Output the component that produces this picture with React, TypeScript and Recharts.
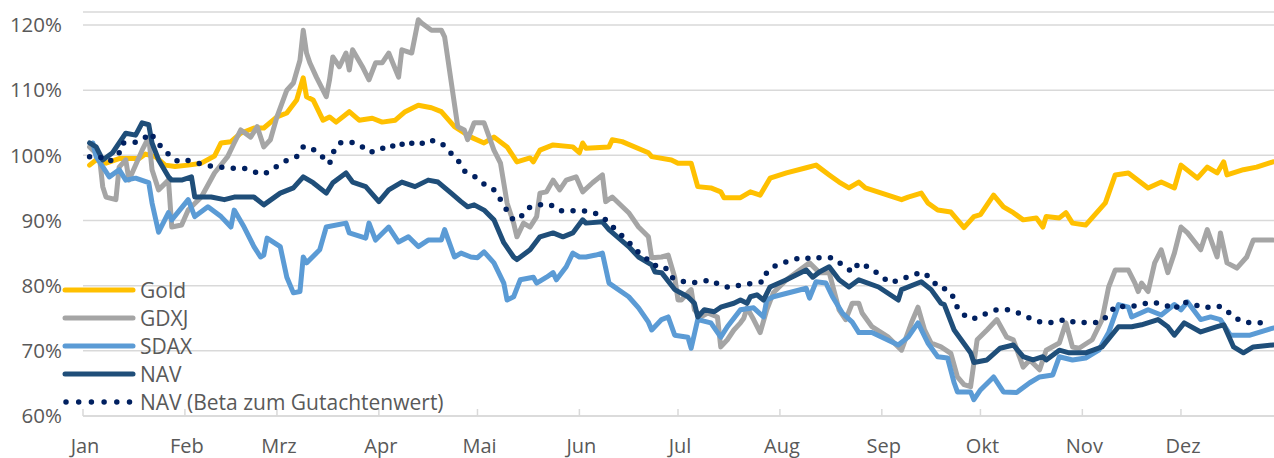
import { CartesianGrid, Legend, Line, LineChart, XAxis, YAxis } from "recharts";

type Pt = [number, number];

const months = ["Jan", "Feb", "Mrz", "Apr", "Mai", "Jun", "Jul", "Aug", "Sep", "Okt", "Nov", "Dez"];
const monthStarts = [0, 31, 59, 90, 120, 151, 181, 212, 243, 273, 304, 334];
const yTicks = [60, 70, 80, 90, 100, 110, 120];

// [day of year, % of start value]
const gold: Pt[] = [
  [2, 98.5], [4, 99.3], [7, 98.8], [11, 99.5], [17, 99.5], [19, 100.2], [22, 99.8], [25, 98.5], [28, 98.3],
  [32, 98.5], [36, 98.8], [40, 99.9], [42, 101.9], [45, 102.1], [48, 103.4], [52, 104.2], [55, 104.2],
  [59, 105.9], [62, 106.5], [65, 108.5], [67, 111.9], [68, 109.0], [70, 108.5], [73, 105.4], [75, 105.9],
  [77, 105.1], [81, 106.7], [84, 105.4], [88, 105.7], [91, 105.1], [95, 105.4], [98, 106.7], [102, 107.7],
  [106, 107.3], [109, 106.7], [113, 104.4], [118, 102.8], [122, 101.9], [125, 102.8], [129, 101.3],
  [132, 99.0], [136, 99.6], [137, 99.0], [139, 100.8], [143, 101.6], [149, 101.3], [151, 100.4],
  [152, 101.9], [153, 101.1], [160, 101.3], [161, 102.4], [164, 102.1], [172, 100.4], [173, 99.8],
  [179, 99.3], [181, 98.8], [185, 98.8], [187, 95.2], [191, 95.0], [194, 94.4], [195, 93.5], [200, 93.5],
  [203, 94.4], [206, 93.9], [209, 96.5], [214, 97.3], [220, 98.1], [223, 98.5], [227, 97.0], [230, 95.9],
  [233, 95.0], [236, 95.9], [238, 95.0], [249, 93.2], [251, 93.6], [255, 94.2], [257, 92.7], [260, 91.6],
  [264, 91.3], [266, 90.1], [268, 88.9], [271, 90.6], [273, 90.9], [277, 93.9], [280, 92.1], [283, 91.2],
  [286, 90.1], [290, 90.4], [292, 89.0], [293, 90.6], [297, 90.4], [299, 91.2], [301, 89.6], [305, 89.3],
  [311, 92.7], [314, 97.0], [318, 97.3], [324, 95.0], [328, 95.9], [332, 95.0], [334, 98.5], [339, 96.5],
  [342, 98.2], [345, 97.3], [347, 99.0], [348, 97.0], [353, 97.8], [357, 98.2], [362, 99.0],
];

const gdxj: Pt[] = [
  [2, 101.3], [5, 99.8], [6, 95.2], [7, 93.6], [10, 93.2], [11, 98.2], [13, 99.3], [14, 96.2], [18, 100.8],
  [20, 102.8], [21, 97.8], [23, 94.7], [26, 96.2], [27, 89.0], [30, 89.3], [32, 91.6], [36, 93.6],
  [40, 97.3], [44, 99.8], [46, 101.9], [48, 103.9], [51, 102.8], [53, 104.4], [55, 101.3], [57, 102.4],
  [59, 105.9], [62, 110.0], [64, 111.1], [66, 114.6], [67, 119.2], [68, 115.7], [69, 114.2], [71, 112.0],
  [74, 109.0], [75, 111.6], [76, 115.1], [78, 113.6], [80, 115.7], [81, 113.1], [82, 116.2], [85, 113.6],
  [87, 111.6], [89, 114.2], [91, 114.2], [93, 115.7], [96, 112.0], [97, 116.2], [100, 115.7], [102, 120.8],
  [103, 120.3], [106, 119.2], [109, 119.2], [110, 118.2], [114, 104.4], [116, 103.9], [117, 102.4],
  [119, 105.0], [122, 105.0], [123, 103.6], [125, 100.8], [127, 98.8], [129, 92.7], [131, 89.6],
  [132, 87.5], [134, 89.6], [136, 89.0], [138, 90.6], [139, 94.2], [141, 94.4], [143, 96.2], [145, 94.7],
  [147, 96.2], [150, 96.7], [152, 94.4], [155, 95.8], [158, 97.0], [159, 92.9], [161, 93.6], [166, 91.2],
  [169, 89.0], [172, 87.5], [173, 84.3], [176, 84.4], [178, 84.7], [180, 81.3], [181, 77.8], [182, 77.8],
  [184, 78.9], [185, 79.4], [186, 76.3], [188, 75.2], [190, 75.8], [193, 75.2], [194, 70.6], [196, 71.7],
  [198, 73.2], [200, 74.3], [201, 75.0], [202, 76.6], [204, 74.8], [206, 72.8], [208, 76.3], [210, 78.9],
  [214, 80.9], [218, 82.4], [221, 83.5], [224, 82.0], [227, 82.0], [230, 76.3], [232, 74.8], [234, 77.3],
  [236, 77.3], [237, 75.8], [240, 73.7], [245, 72.1], [249, 70.1], [252, 74.3], [254, 76.7], [256, 73.2],
  [258, 71.2], [261, 70.6], [264, 69.6], [266, 66.0], [268, 64.8], [270, 64.5], [272, 71.7], [275, 73.2],
  [278, 74.8], [281, 72.1], [283, 71.7], [286, 67.5], [288, 68.6], [291, 67.1], [293, 70.1], [297, 71.2],
  [299, 74.3], [301, 70.6], [303, 70.4], [307, 71.7], [310, 74.8], [312, 79.8], [314, 82.4], [318, 82.4],
  [320, 80.4], [321, 79.1], [322, 80.4], [324, 79.1], [326, 83.5], [328, 85.5], [330, 82.0], [332, 85.0],
  [334, 89.0], [336, 88.1], [340, 85.5], [342, 88.6], [345, 84.4], [346, 88.1], [348, 83.5], [351, 82.7],
  [354, 84.4], [356, 87.0], [362, 87.0],
];

const sdax: Pt[] = [
  [3, 101.9], [4, 99.8], [8, 96.7], [11, 97.8], [13, 96.2], [16, 96.5], [20, 95.8], [21, 92.7], [23, 88.2],
  [26, 91.2], [27, 90.1], [32, 93.2], [34, 90.6], [38, 92.1], [42, 90.6], [45, 89.0], [46, 91.6], [49, 89.0],
  [52, 86.0], [54, 84.4], [55, 84.7], [56, 87.3], [60, 86.0], [62, 81.3], [64, 78.9], [66, 79.1], [67, 84.4],
  [68, 83.5], [72, 85.5], [74, 89.0], [80, 89.6], [81, 88.1], [86, 87.3], [87, 89.6], [89, 87.0], [93, 89.0],
  [96, 86.7], [99, 87.5], [102, 86.0], [105, 87.0], [109, 87.0], [110, 88.6], [113, 84.4], [115, 85.0],
  [118, 84.4], [120, 84.3], [122, 85.2], [125, 83.5], [128, 80.4], [129, 77.8], [131, 78.3], [133, 80.9],
  [137, 81.3], [138, 80.4], [141, 81.3], [143, 82.0], [144, 80.9], [147, 82.9], [149, 85.0], [151, 84.4],
  [153, 84.4], [156, 84.7], [158, 85.0], [160, 80.4], [166, 78.3], [169, 76.6], [172, 74.4], [173, 73.2],
  [176, 74.8], [178, 75.2], [180, 72.4], [184, 72.1], [185, 70.4], [187, 74.8], [191, 74.3], [194, 72.1],
  [196, 73.7], [200, 76.3], [204, 76.6], [207, 75.2], [208, 77.8], [210, 78.3], [220, 79.6], [221, 78.1],
  [223, 80.6], [226, 80.4], [228, 78.3], [231, 75.8], [234, 74.4], [236, 72.8], [240, 72.8], [248, 70.9],
  [251, 72.1], [254, 74.3], [257, 71.2], [260, 69.1], [263, 68.9], [265, 65.1], [266, 63.7], [270, 63.7],
  [271, 62.5], [273, 64.0], [277, 66.0], [280, 63.7], [284, 63.6], [288, 65.1], [291, 66.0], [295, 66.3],
  [297, 69.1], [301, 68.6], [305, 68.9], [309, 70.1], [312, 72.8], [315, 77.1], [318, 76.7], [319, 75.2],
  [324, 76.3], [328, 75.5], [332, 77.1], [334, 76.3], [336, 77.5], [340, 74.8], [343, 75.2], [346, 74.8],
  [349, 72.4], [355, 72.4], [362, 73.5],
];

const nav: Pt[] = [
  [2, 101.9], [4, 101.3], [6, 99.3], [9, 100.4], [13, 103.4], [16, 103.1], [18, 105.0], [20, 104.7],
  [21, 101.9], [23, 99.3], [26, 96.7], [27, 96.2], [30, 96.2], [33, 96.7], [34, 93.6], [39, 93.6], [43, 93.2],
  [46, 93.6], [52, 93.6], [55, 92.4], [60, 94.2], [64, 95.0], [67, 96.7], [70, 95.8], [74, 94.2], [76, 95.8],
  [80, 97.3], [82, 95.9], [86, 95.2], [90, 92.9], [93, 94.7], [97, 95.9], [101, 95.2], [105, 96.2],
  [108, 95.9], [112, 94.2], [115, 92.9], [117, 92.1], [119, 92.4], [122, 91.6], [125, 90.1], [128, 86.6],
  [131, 84.4], [132, 84.0], [136, 85.5], [139, 87.5], [143, 88.1], [146, 87.5], [149, 88.1], [152, 90.1],
  [153, 89.6], [158, 89.8], [160, 88.6], [166, 86.0], [169, 84.4], [173, 83.2], [174, 82.1], [176, 82.0],
  [180, 79.4], [184, 78.3], [186, 77.3], [187, 75.2], [189, 76.3], [192, 76.0], [194, 76.7], [198, 77.3],
  [200, 77.8], [202, 77.3], [203, 78.3], [205, 78.6], [207, 77.8], [209, 79.8], [214, 80.9], [220, 82.4],
  [222, 81.3], [224, 82.1], [227, 82.9], [230, 80.9], [233, 79.8], [236, 80.9], [242, 79.8], [248, 77.8],
  [249, 79.4], [255, 80.6], [258, 79.4], [261, 77.3], [262, 77.1], [265, 73.2], [270, 69.7], [271, 68.2],
  [275, 68.6], [279, 70.4], [283, 70.9], [286, 69.1], [289, 68.6], [292, 69.1], [293, 68.6], [297, 70.1],
  [300, 69.7], [305, 69.7], [310, 70.6], [315, 73.7], [319, 73.7], [322, 74.0], [327, 74.8], [330, 73.7],
  [332, 72.4], [335, 74.3], [340, 72.9], [345, 73.7], [347, 74.0], [350, 70.6], [353, 69.7], [356, 70.6],
  [362, 70.9],
];

const navBeta: Pt[] = [
  [2, 99.8], [5, 99.8], [8, 99.0], [11, 100.4], [12, 101.9], [16, 102.0], [19, 102.8], [20, 103.5],
  [22, 102.6], [24, 101.1], [26, 100.2], [29, 99.0], [32, 99.2], [35, 98.8], [38, 98.4], [42, 98.2],
  [46, 98.0], [49, 98.0], [53, 97.3], [55, 97.1], [58, 98.0], [61, 99.0], [65, 99.8], [67, 101.3],
  [69, 101.3], [72, 100.2], [75, 98.7], [76, 100.4], [78, 101.9], [81, 102.1], [84, 101.7], [87, 100.5],
  [90, 100.7], [93, 101.7], [96, 101.1], [98, 102.2], [102, 101.5], [105, 102.4], [109, 101.9], [111, 100.8],
  [114, 99.3], [116, 97.6], [119, 96.8], [122, 95.6], [125, 94.7], [127, 93.2], [129, 91.5], [131, 90.0],
  [134, 90.9], [136, 92.1], [138, 92.4], [142, 92.5], [145, 91.5], [149, 91.5], [152, 91.5], [155, 91.3],
  [158, 90.6], [160, 89.6], [163, 88.1], [166, 86.7], [168, 85.5], [171, 84.4], [173, 83.2], [177, 82.9],
  [179, 81.3], [182, 80.7], [185, 80.4], [188, 80.6], [191, 80.9], [194, 80.0], [197, 79.7], [200, 80.1],
  [204, 80.4], [207, 80.6], [208, 82.1], [211, 83.2], [215, 83.8], [219, 84.4], [222, 84.0], [224, 84.3],
  [228, 84.3], [231, 83.2], [234, 82.1], [236, 83.5], [240, 82.6], [243, 81.3], [246, 80.4], [248, 80.9],
  [252, 81.5], [255, 82.1], [258, 81.2], [260, 79.8], [263, 79.4], [265, 78.1], [266, 76.6], [269, 75.0],
  [272, 75.0], [275, 75.8], [278, 76.3], [282, 76.3], [286, 75.5], [289, 74.8], [292, 74.3], [296, 74.4],
  [299, 74.9], [302, 74.3], [306, 74.4], [309, 74.3], [312, 75.5], [314, 76.9], [318, 76.7], [322, 77.1],
  [325, 77.5], [329, 77.1], [332, 76.3], [334, 77.5], [337, 77.3], [341, 76.6], [345, 76.9], [347, 76.6],
  [350, 75.2], [353, 74.4], [357, 74.3], [361, 74.4],
];

const series = [
  { name: "Gold", points: gold, color: "#FFC000", dash: undefined as string | undefined },
  { name: "GDXJ", points: gdxj, color: "#A5A5A5", dash: undefined },
  { name: "SDAX", points: sdax, color: "#5B9BD5", dash: undefined },
  { name: "NAV", points: nav, color: "#1F4E79", dash: undefined },
  { name: "NAV (Beta zum Gutachtenwert)", points: navBeta, color: "#002060", dash: "0 11.5" },
];

const textColor = "#595959";
const gridColor = "#d9d9d9";

const MonthTick = ({ x, y, payload }: any) => (
  <g>
    <line x1={x} x2={x} y1={y} y2={y - 7} stroke={gridColor} strokeWidth={1.5} />
    <text x={x + 2} y={y + 37} textAnchor="middle" fill={textColor} fontSize={20}>
      {months[monthStarts.indexOf(payload.value)]}
    </text>
  </g>
);

const LegendBox = () => (
  <div style={{ fontSize: 21, color: textColor }}>
    {series.map((s) => (
      <div key={s.name} style={{ display: "flex", alignItems: "center", height: 28 }}>
        <svg width={80} height={28} style={{ display: "block" }}>
          <line
            x1={s.dash ? 8 : 7}
            x2={s.dash ? 72 : 75}
            y1={14}
            y2={14}
            stroke={s.color}
            strokeWidth={s.dash ? 5.5 : 5}
            strokeLinecap="round"
            strokeDasharray={s.dash ? "0 12.7" : undefined}
          />
        </svg>
        <span style={{ marginLeft: 2, whiteSpace: "nowrap" }}>{s.name}</span>
      </div>
    ))}
  </div>
);

export default function App() {
  return (
    <div
      style={{
        position: "absolute",
        left: 0,
        top: 0,
        width: 1274,
        height: 458,
        background: "#fff",
        fontFamily: "'Open Sans', sans-serif",
      }}
    >
      <LineChart width={1274} height={458} margin={{ top: 12, right: 0, bottom: 0, left: 0 }}>
        <CartesianGrid vertical={false} stroke={gridColor} strokeWidth={1.5} />
        <XAxis
          type="number"
          dataKey="d"
          domain={[0, 362.3]}
          ticks={monthStarts}
          height={42}
          tickSize={0}
          tickMargin={0}
          tickLine={false}
          axisLine={{ stroke: gridColor, strokeWidth: 1.5 }}
          tick={<MonthTick />}
          interval={0}
        />
        <YAxis
          type="number"
          domain={[60, 122]}
          ticks={yTicks}
          width={83}
          axisLine={false}
          tickLine={false}
          tickSize={0}
          tickMargin={21}
          tick={{ fill: textColor, fontSize: 20.5 }}
          tickFormatter={(v: number) => `${v}%`}
          interval={0}
        />
        <Legend
          content={LegendBox}
          layout="vertical"
          align="center"
          verticalAlign="middle"
          wrapperStyle={{ left: 58, top: 276, width: "auto" }}
        />
        {series.map((s) => (
          <Line
            key={s.name}
            name={s.name}
            data={s.points.map(([d, v]) => ({ d, v }))}
            dataKey="v"
            type="linear"
            stroke={s.color}
            strokeWidth={s.dash ? 5.5 : 5}
            strokeDasharray={s.dash}
            strokeLinecap="round"
            strokeLinejoin="round"
            dot={false}
            activeDot={false}
            isAnimationActive={false}
          />
        ))}
      </LineChart>
    </div>
  );
}
